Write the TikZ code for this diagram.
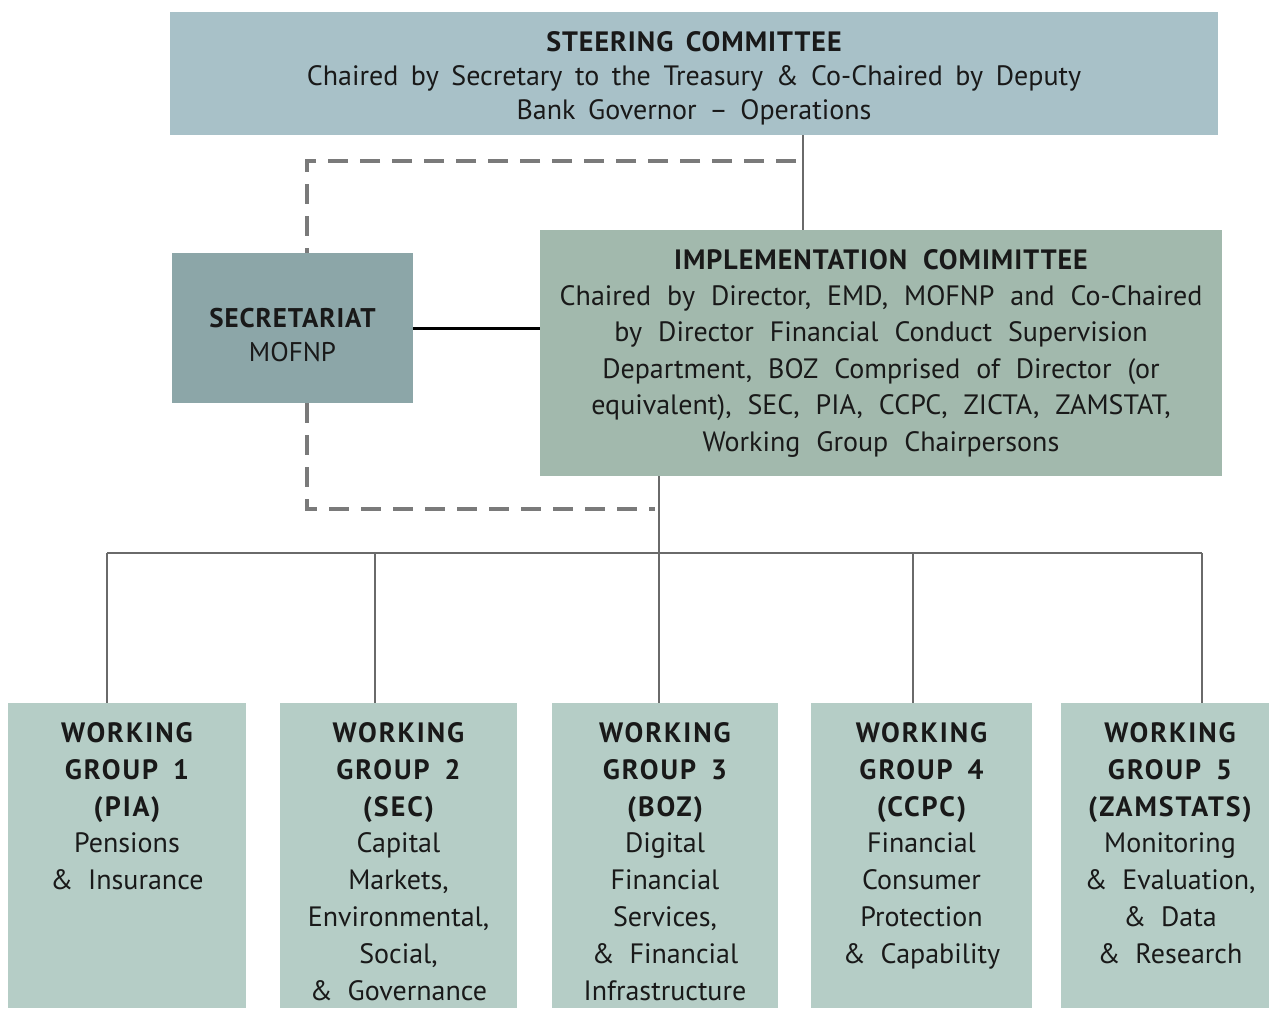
\documentclass[tikz,border=0pt]{standalone}
\usepackage{fontspec}
\setmainfont{PT Sans}
\newfontfamily\headfont{PT Sans}[LetterSpace=3.5]
\newfontfamily\wgheadfont{PT Sans}[LetterSpace=7]
\usepackage{xcolor}
\usepackage{tikz}
\usetikzlibrary{positioning}

\definecolor{steerblue}{HTML}{A8C1C8}
\definecolor{secgray}{HTML}{8CA6A8}
\definecolor{implgreen}{HTML}{A2B9AD}
\definecolor{wggreen}{HTML}{B5CDC6}
\definecolor{linegray}{HTML}{6A6A6A}
\definecolor{dashgray}{HTML}{7A7A7A}

\newcommand{\hd}[1]{{\headfont\bfseries #1}}
\newcommand{\wghd}[1]{{\wgheadfont\bfseries #1}}

\begin{document}
\begin{tikzpicture}[x=0.5pt,y=-0.5pt]
    \tikzstyle{box}=[inner sep=0pt,align=center,text=black!90]
    \tikzstyle{steer text}=[font={\fontsize{14}{17}\selectfont\spaceskip=6.3pt plus 1pt minus 1pt}]
    \tikzstyle{sec text}=[font={\fontsize{13.5}{17}\selectfont}]
    \tikzstyle{impl text}=[font={\fontsize{14}{18.2}\selectfont\spaceskip=8pt plus 1pt minus 1pt}]
    \tikzstyle{wgbox}=[fill=wggreen,minimum height=152.5pt,anchor=north,inner sep=0pt]
    \tikzstyle{wgtext}=[align=center,inner sep=0pt,text=black!90,
                        font={\fontsize{14}{18.4}\selectfont\spaceskip=7.5pt plus 1pt minus 1pt}]
    \tikzstyle{link}=[line width=1.3pt,color=linegray]
    \tikzstyle{dashlink}=[line width=2.2pt,color=dashgray,dash pattern=on 10pt off 6pt]

    \useasboundingbox (0,0) rectangle (1269,1008);

    % Committees
    \node[box,fill=steerblue,minimum width=524pt,minimum height=61.5pt] (steer) at (694,73.5) {};
    \node[box,steer text,yshift=-2.5pt] (steertext) at (steer)
        {\hd{STEERING COMMITTEE}\\
         Chaired by Secretary to the Treasury \& Co-Chaired by Deputy\\
         Bank Governor -- Operations};
    \node[box,fill=secgray,minimum width=120.5pt,minimum height=75pt] (sec) at (292.5,328) {};
    \node[box,sec text,yshift=-3.5pt] (sectext) at (sec)
        {\hd{SECRETARIAT}\\MOFNP};
    \node[box,impl text,fill=implgreen,minimum width=341pt,minimum height=123pt] (impl) at (881,353)
        {\hd{IMPLEMENTATION COMIMITTEE}\\
         Chaired by Director, EMD, MOFNP and Co-Chaired\\
         by Director Financial Conduct Supervision\\
         Department, BOZ Comprised of Director (or\\
         equivalent), SEC, PIA, CCPC, ZICTA, ZAMSTAT,\\
         Working Group Chairpersons};

    % Working groups
    \node[wgbox,minimum width=119pt] (wg1) at (127,703) {};
    \node[wgbox,minimum width=118.5pt] (wg2) at (398.5,703) {};
    \node[wgbox,minimum width=113pt] (wg3) at (665,703) {};
    \node[wgbox,minimum width=110.5pt] (wg4) at (921.5,703) {};
    \node[wgbox,minimum width=109pt] (wg5) at (1170,703) {};

    \node[wgtext,below=9.5pt of wg1.north] (wg1text)
        {\wghd{WORKING}\\\wghd{GROUP 1}\\\wghd{(PIA)}\\Pensions\\\& Insurance};
    \node[wgtext,below=9.5pt of wg2.north] (wg2text)
        {\wghd{WORKING}\\\wghd{GROUP 2}\\\wghd{(SEC)}\\Capital\\Markets,\\Environmental,\\Social,\\\& Governance};
    \node[wgtext,below=9.5pt of wg3.north] (wg3text)
        {\wghd{WORKING}\\\wghd{GROUP 3}\\\wghd{(BOZ)}\\Digital\\Financial\\Services,\\\& Financial\\Infrastructure};
    \node[wgtext,below=9.5pt of wg4.north] (wg4text)
        {\wghd{WORKING}\\\wghd{GROUP 4}\\\wghd{(CCPC)}\\Financial\\Consumer\\Protection\\\& Capability};
    \node[wgtext,below=9.5pt of wg5.north] (wg5text)
        {\wghd{WORKING}\\\wghd{GROUP 5}\\\wghd{(ZAMSTATS)}\\Monitoring\\\& Evaluation,\\\& Data\\\& Research};

    \coordinate (stdrop) at (803,0);
    \coordinate (dtop) at (796,161);
    \coordinate (dleft) at (307,0);
    \coordinate (dbot) at (655,509);
    \coordinate (d1) at (107,553);
    \coordinate (d2) at (375,553);
    \coordinate (d3) at (659,553);
    \coordinate (d4) at (913,553);
    \coordinate (d5) at (1202,553);

    % Steering to implementation
    \draw[style=link] (stdrop |- steer.south) -- (stdrop |- impl.north);

    % Secretariat
    \draw[style=dashlink] (dtop) -| (dleft |- sec.north);
    \draw[style=dashlink] (dleft |- sec.south) |- (dbot);
    \draw[line width=1.5pt,black] (sec.east) -- (sec.east -| impl.west);

    % Bus to working groups
    \draw[style=link] (impl.south -| d3) -- (d3);
    \draw[style=link] (d1) -- (d5);
    \draw[style=link] (d1) -- (d1 |- wg1.north);
    \draw[style=link] (d2) -- (d2 |- wg2.north);
    \draw[style=link] (d3) -- (d3 |- wg3.north);
    \draw[style=link] (d4) -- (d4 |- wg4.north);
    \draw[style=link] (d5) -- (d5 |- wg5.north);
\end{tikzpicture}
\end{document}
